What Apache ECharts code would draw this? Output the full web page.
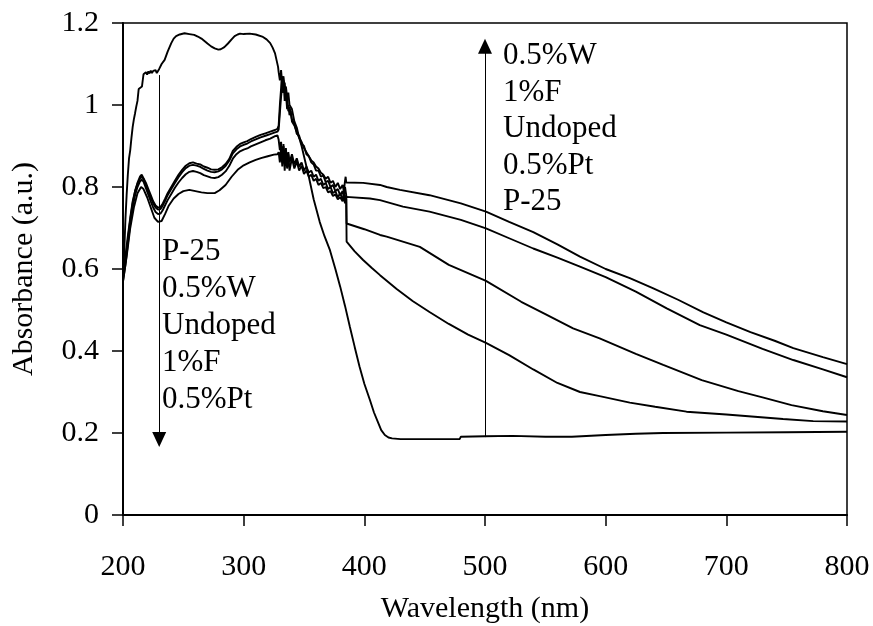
<!DOCTYPE html>
<html>
<head>
<meta charset="utf-8">
<script src="https://cdn.jsdelivr.net/npm/echarts@6/dist/echarts.min.js"></script>
<style>
html,body{margin:0;padding:0;background:#fff;}
#chart{width:873px;height:626px;}
</style>
</head>
<body>
<div id="chart"></div>
<script>
// ---- data (wavelength nm, absorbance a.u.) ----
const xTicks = [200, 300, 400, 500, 600, 700, 800];
const yTicks = [0, 0.2, 0.4, 0.6, 0.8, 1.0, 1.2];

const seriesP25 = [[200,0.58],[201,0.64],[202,0.72],[203,0.78],[204,0.83],[205,0.87],[206,0.89],[207,0.92],[208,0.946],[209,0.965],[210,0.98],[211,0.996],[212,1.01],[213,1.039],[214,1.042],[215.7,1.045],[217,1.075],[218,1.072],[219,1.08],[220,1.074],[221,1.082],[222,1.077],[223,1.084],[224,1.078],[225,1.083],[226,1.079],[227,1.085],[228,1.078],[230,1.088],[232,1.1],[234.5,1.11],[237,1.13],[240,1.151],[242,1.162],[244,1.168],[247,1.172],[251,1.175],[255,1.173],[259,1.171],[262,1.167],[265,1.162],[268,1.155],[270,1.15],[273,1.143],[276,1.138],[279,1.135],[281,1.136],[284,1.141],[287,1.15],[290,1.16],[292.5,1.168],[295,1.172],[297,1.174],[300,1.173],[305,1.174],[310,1.172],[316,1.166],[319,1.16],[322,1.151],[324,1.14],[326,1.126],[328.5,1.093],[329,1.08],[330,1.06],[331,1.085],[332,1.05],[333,1.07],[334,1.04],[335,1.045],[336,1.02],[337,1.03],[338,1.0],[340,0.99],[342,0.96],[344,0.945],[346,0.92],[348,0.9],[350,0.875],[352,0.85],[354,0.825],[358,0.77],[363,0.715],[367,0.68],[371.5,0.646],[376,0.6],[380,0.557],[384,0.51],[388,0.459],[392,0.41],[396,0.362],[400,0.32],[404.7,0.28],[408,0.25],[411.6,0.224],[414,0.207],[417,0.195],[420,0.189],[423,0.187],[430,0.185],[450,0.185],[479,0.185],[480,0.191],[500,0.192],[523,0.193],[550,0.191],[572,0.191],[600,0.195],[625,0.198],[647.5,0.2],[700,0.201],[750,0.202],[800,0.203]];

const seriesW = [[200,0.58],[202,0.62],[204,0.67],[206,0.72],[208,0.76],[210,0.79],[212,0.81],[214,0.825],[215.5,0.83],[217,0.826],[219,0.81],[221,0.795],[223,0.78],[225,0.765],[227,0.755],[229,0.75],[231,0.751],[233,0.76],[235,0.772],[237,0.785],[240,0.8],[243,0.815],[246,0.83],[249,0.842],[252,0.852],[255,0.858],[258,0.86],[261,0.857],[264,0.855],[267,0.85],[270,0.847],[273,0.843],[276,0.842],[279,0.843],[282,0.848],[285,0.856],[288,0.868],[291,0.888],[294,0.898],[297,0.905],[300,0.909],[303,0.912],[306,0.917],[310,0.922],[314,0.927],[318,0.931],[322,0.935],[326,0.939],[328,0.942],[329,0.95],[330,1.0],[331,1.04],[331.5,1.065],[332,1.03],[333,1.06],[334,1.01],[335,1.03],[336,0.99],[337,1.0],[338,0.975],[339,0.985],[340,0.96],[342,0.95],[344,0.935],[346,0.92],[348,0.91],[350,0.895],[352,0.885],[354,0.875],[356,0.865],[358,0.86],[360,0.85],[362,0.845],[364,0.835],[366,0.83],[368,0.82],[370,0.825],[372,0.81],[374,0.815],[376,0.8],[378,0.81],[380,0.795],[382,0.805],[383,0.79],[384,0.815],[384.5,0.825],[385,0.811],[399,0.81],[413,0.805],[418.5,0.8],[429.5,0.793],[454,0.78],[480,0.76],[500.8,0.74],[520,0.715],[540,0.69],[560,0.66],[578.7,0.63],[600,0.6],[620,0.578],[639.5,0.553],[660,0.525],[681,0.494],[700,0.47],[720,0.446],[740,0.425],[755.5,0.407],[780,0.385],[800,0.368]];

const seriesF = [[200,0.57],[202,0.61],[204,0.66],[206,0.71],[208,0.75],[210,0.78],[212,0.8],[214,0.813],[215.5,0.818],[217,0.813],[219,0.797],[221,0.781],[223,0.765],[225,0.75],[227,0.739],[229,0.734],[231,0.735],[233,0.744],[235,0.756],[237,0.768],[240,0.783],[243,0.798],[246,0.811],[249,0.822],[252,0.831],[255,0.837],[258,0.839],[261,0.837],[264,0.834],[267,0.829],[270,0.826],[273,0.823],[276,0.822],[279,0.824],[282,0.83],[285,0.838],[288,0.851],[291,0.869],[294,0.88],[297,0.887],[300,0.891],[303,0.894],[306,0.899],[310,0.904],[314,0.909],[318,0.914],[322,0.918],[326,0.924],[328,0.926],[329,0.915],[330,0.89],[331,0.91],[332,0.87],[333,0.9],[334,0.86],[335,0.895],[336,0.855],[337,0.885],[338,0.86],[340,0.88],[342,0.855],[344,0.87],[346,0.85],[348,0.86],[350,0.84],[352,0.85],[354,0.835],[356,0.84],[358,0.825],[360,0.83],[362,0.815],[364,0.82],[366,0.805],[368,0.81],[370,0.795],[372,0.8],[374,0.785],[376,0.79],[378,0.775],[380,0.785],[382,0.77],[383,0.78],[384,0.765],[385,0.776],[404.6,0.772],[413,0.768],[432,0.752],[454,0.74],[480,0.72],[500.8,0.699],[520,0.675],[540,0.65],[560,0.628],[578.7,0.606],[600,0.58],[625,0.545],[650.6,0.504],[678,0.463],[700,0.44],[730,0.405],[755.5,0.378],[780,0.355],[800,0.336]];

const seriesUndoped = [[200,0.59],[202,0.63],[204,0.68],[206,0.725],[208,0.765],[210,0.79],[212,0.808],[214,0.82],[215.5,0.825],[217,0.82],[219,0.805],[221,0.79],[223,0.774],[225,0.76],[227,0.75],[229,0.745],[231,0.746],[233,0.755],[235,0.767],[237,0.78],[240,0.795],[243,0.81],[246,0.824],[249,0.836],[252,0.846],[255,0.852],[258,0.854],[261,0.852],[264,0.849],[267,0.844],[270,0.84],[273,0.837],[276,0.836],[279,0.838],[282,0.843],[285,0.851],[288,0.864],[291,0.882],[294,0.892],[297,0.899],[300,0.903],[303,0.906],[306,0.911],[310,0.916],[314,0.921],[318,0.925],[322,0.929],[326,0.933],[328,0.935],[329,0.94],[330,0.98],[331,1.02],[332,1.05],[332.5,1.07],[333,1.03],[334,1.055],[335,1.01],[336,1.02],[337,0.985],[338,0.995],[340,0.965],[342,0.955],[344,0.93],[346,0.925],[348,0.905],[350,0.9],[352,0.88],[354,0.875],[356,0.86],[358,0.855],[360,0.84],[362,0.84],[364,0.825],[366,0.828],[368,0.812],[370,0.815],[372,0.8],[374,0.805],[376,0.79],[378,0.795],[380,0.78],[382,0.79],[383,0.775],[384,0.8],[384.5,0.79],[385,0.78],[385.3,0.711],[400,0.697],[413,0.683],[418.5,0.679],[446,0.654],[470,0.61],[500.8,0.571],[530,0.52],[550,0.49],[573,0.455],[595,0.431],[625,0.393],[647.7,0.366],[679.6,0.329],[710,0.302],[730,0.287],[754,0.268],[780,0.253],[800,0.244]];

const seriesPt = [[200,0.57],[203,0.63],[206,0.7],[209,0.75],[212,0.785],[215,0.8],[217,0.795],[220,0.775],[223,0.75],[226,0.725],[229,0.715],[232,0.717],[235,0.735],[238,0.755],[242,0.772],[246,0.783],[250,0.79],[255,0.793],[260,0.79],[265,0.787],[270,0.785],[276,0.785],[280,0.792],[285,0.805],[290,0.825],[295,0.842],[300,0.853],[305,0.86],[310,0.866],[315,0.871],[320,0.875],[325,0.879],[328,0.88],[329,0.885],[330,0.86],[331,0.895],[332,0.85],[333,0.905],[334,0.84],[335,0.89],[336,0.845],[337,0.88],[338,0.84],[340,0.87],[342,0.845],[344,0.862],[346,0.84],[348,0.852],[350,0.832],[352,0.84],[354,0.825],[356,0.83],[358,0.815],[360,0.82],[362,0.805],[364,0.81],[366,0.797],[368,0.8],[370,0.787],[372,0.79],[374,0.778],[376,0.782],[378,0.77],[380,0.775],[382,0.765],[383,0.775],[384,0.76],[384.5,0.78],[385,0.77],[385.3,0.667],[392,0.643],[399,0.622],[406,0.603],[413,0.585],[426.8,0.551],[440,0.522],[454,0.495],[470,0.466],[486,0.44],[500.8,0.42],[520,0.39],[540,0.355],[560,0.322],[578.7,0.3],[595,0.29],[620,0.274],[641,0.264],[667,0.252],[700,0.245],[747,0.234],[772,0.229],[800,0.228]];

// annotation arrows [x, yStart, yEnd (arrowhead centre)]
const arrowDown = [230, 1.073, 0.184];
const arrowUp = [500, 0.19, 1.143];
const labelsDown = ['P-25', '0.5%W', 'Undoped', '1%F', '0.5%Pt'];
const labelsUp = ['0.5%W', '1%F', 'Undoped', '0.5%Pt', 'P-25'];

const FONT = '"Liberation Serif", "Times New Roman", serif';

const chart = echarts.init(document.getElementById('chart'), null, {renderer: 'canvas'});

function lineSeries(name, data) {
  return {
    name: name, type: 'line', data: data, symbol: 'none', smooth: false,
    lineStyle: {color: '#000', width: 1.9}, silent: true, z: 3
  };
}

const option = {
  animation: false,
  backgroundColor: '#fff',
  grid: {left: 123, right: 26, top: 23, bottom: 111, containLabel: false, outerBoundsMode: 'none',
         show: true, borderColor: '#000', borderWidth: 1.5, backgroundColor: 'transparent'},
  xAxis: {
    type: 'value', min: xTicks[0], max: xTicks[xTicks.length - 1], interval: 100,
    name: 'Wavelength (nm)', nameLocation: 'middle', nameGap: 79,
    nameTextStyle: {fontFamily: FONT, fontSize: 30, color: '#000'},
    axisLine: {show: true, onZero: false, lineStyle: {color: '#000', width: 2}},
    axisTick: {show: true, inside: false, length: 11, lineStyle: {color: '#000', width: 1.5}},
    axisLabel: {fontFamily: FONT, fontSize: 30, color: '#000', margin: 37},
    splitLine: {show: false}
  },
  yAxis: {
    type: 'value', min: yTicks[0], max: yTicks[yTicks.length - 1], interval: 0.2,
    name: 'Absorbance (a.u.)', nameLocation: 'middle', nameGap: 84,
    nameTextStyle: {fontFamily: FONT, fontSize: 30, color: '#000'},
    axisLine: {show: true, onZero: false, lineStyle: {color: '#000', width: 2}},
    axisTick: {show: true, inside: false, length: 11, lineStyle: {color: '#000', width: 1.5}},
    axisLabel: {fontFamily: FONT, fontSize: 30, color: '#000', margin: 24},
    splitLine: {show: false}
  },
  series: [
    lineSeries('P-25', seriesP25),
    lineSeries('0.5%W', seriesW),
    lineSeries('1%F', seriesF),
    lineSeries('Undoped', seriesUndoped),
    lineSeries('0.5%Pt', seriesPt),
    {
      type: 'line', data: [], silent: true, z: 4,
      markLine: {
        silent: true, animation: false,
        symbol: ['none', 'triangle'], symbolSize: [14, 15],
        label: {show: false},
        lineStyle: {color: '#000', width: 1, type: 'solid'},
        itemStyle: {color: '#000'},
        data: [
          [{coord: [arrowDown[0], arrowDown[1]]}, {coord: [arrowDown[0], arrowDown[2]]}],
          [{coord: [arrowUp[0], arrowUp[1]]}, {coord: [arrowUp[0], arrowUp[2]]}]
        ]
      }
    }
  ],
  graphic: [
    {type: 'text', left: 162, top: 233, z: 10,
     style: {text: labelsDown.join('\n'), font: '31px ' + FONT, lineHeight: 37, fill: '#000'}},
    {type: 'text', left: 503, top: 38, z: 10,
     style: {text: labelsUp.join('\n'), font: '31px ' + FONT, lineHeight: 36.5, fill: '#000'}}
  ]
};
chart.setOption(option);
</script>
</body>
</html>
